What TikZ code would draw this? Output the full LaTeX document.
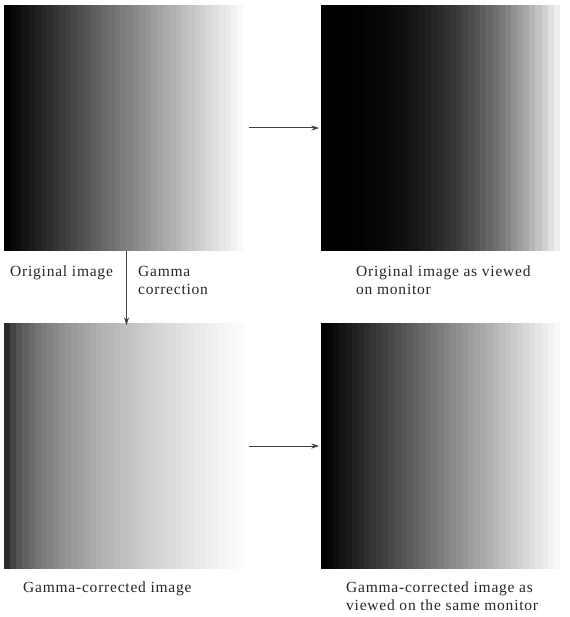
\documentclass[tikz,border=0pt]{standalone}
\usepackage{fontspec}
\setmainfont{Liberation Serif}[LetterSpace=5]
\usetikzlibrary{arrows.meta}
\begin{document}
\begin{tikzpicture}[x=1pt,y=-1pt,
  panel/.style={minimum width=245pt, minimum height=246pt, inner sep=0pt, outer sep=0pt, anchor=north west},
  lbl/.style={anchor=base west, inner sep=0pt, font=\fontsize{15.5}{18.5}\selectfont, align=left, text=black!85},
  conn/.style={draw=black!75, line width=1pt, -{Stealth[length=7.5pt,width=5pt]}}]
\useasboundingbox[fill=white] (0,0) rectangle (569,617);
\node[panel] (tl) at (4,5) {};
\node[panel] (tr) at (321,5) {};
\node[panel] (bl) at (4,323) {};
\node[panel] (br) at (321,323) {};
\def\nb{40}
\foreach \i in {0,...,39} {
  \pgfmathsetmacro\xa{\i*245/\nb}
  \pgfmathsetmacro\xb{min((\i+1)*245/\nb+0.4,245)}
  \pgfmathsetmacro\t{max(\i,0.001)/39}
  \pgfmathsetmacro\tm{(\i+0.5)/40}
  \pgfmathsetmacro\wl{100*\t}
  \pgfmathsetmacro\wg{100*(\t)^2.5}
  \pgfmathsetmacro\wc{100*(\tm)^0.4}
  \fill[white!\wl!black] ([xshift=\xa pt]tl.north west) rectangle ([xshift=\xb pt]tl.south west);
  \fill[white!\wg!black] ([xshift=\xa pt]tr.north west) rectangle ([xshift=\xb pt]tr.south west);
  \fill[white!\wc!black] ([xshift=\xa pt]bl.north west) rectangle ([xshift=\xb pt]bl.south west);
  \fill[white!\wl!black] ([xshift=\xa pt]br.north west) rectangle ([xshift=\xb pt]br.south west);
}
\draw[conn] (tl.east) -- ([xshift=-2pt]tr.west);
\draw[conn] (bl.east) -- ([xshift=-2pt]br.west);
\draw[conn] (tl.south) -- ([yshift=-2pt]bl.north);
\node[lbl] (l1) at (10,276) {Original image};
\node[lbl] (l2) at (138,294.5) {Gamma\\correction};
\node[lbl] (l3) at (356,294.5) {Original image as viewed\\on monitor};
\node[lbl] (l4) at (23,592) {Gamma-corrected image};
\node[lbl] (l5) at (346,610.5) {Gamma-corrected image as\\viewed on the same monitor};
\end{tikzpicture}
\end{document}
